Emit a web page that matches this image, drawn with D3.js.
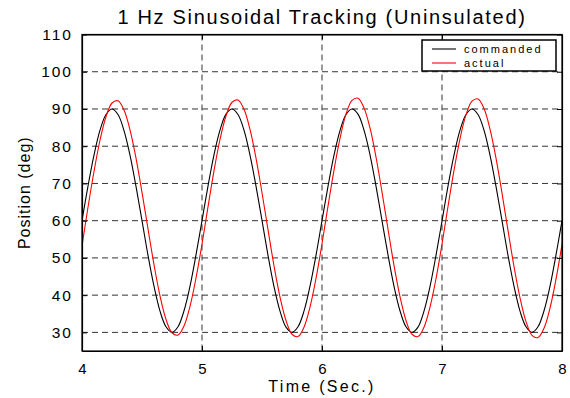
<!DOCTYPE html>
<html>
<head>
<meta charset="utf-8">
<script src="https://cdn.jsdelivr.net/npm/d3@7"></script>
<style>
  body { margin: 0; background: #fff; }
  svg { display: block; font-family: "Liberation Sans", Arial, sans-serif; }
  .grid line { stroke: #333; stroke-width: 1; stroke-dasharray: 6,4; }
</style>
</head>
<body>
<div id="chart"></div>
<script>
// time samples (sec.)
const time = [
  4.00, 4.05, 4.10, 4.15, 4.20, 4.25, 4.30, 4.35, 4.40, 4.45, 4.50, 4.55, 4.60, 4.65, 4.70, 4.75, 4.80, 4.85, 4.90, 4.95,
  5.00, 5.05, 5.10, 5.15, 5.20, 5.25, 5.30, 5.35, 5.40, 5.45, 5.50, 5.55, 5.60, 5.65, 5.70, 5.75, 5.80, 5.85, 5.90, 5.95,
  6.00, 6.05, 6.10, 6.15, 6.20, 6.25, 6.30, 6.35, 6.40, 6.45, 6.50, 6.55, 6.60, 6.65, 6.70, 6.75, 6.80, 6.85, 6.90, 6.95,
  7.00, 7.05, 7.10, 7.15, 7.20, 7.25, 7.30, 7.35, 7.40, 7.45, 7.50, 7.55, 7.60, 7.65, 7.70, 7.75, 7.80, 7.85, 7.90, 7.95,
  8.00
];

// commanded position (deg)
const commanded = [
  60.0, 69.3, 77.6, 84.3, 88.5, 90.0, 88.5, 84.2, 77.6, 69.2, 60.0, 50.7, 42.4, 35.7, 31.5, 30.0, 31.5, 35.8, 42.4, 50.8,
  60.0, 69.3, 77.7, 84.3, 88.6, 90.0, 88.5, 84.3, 77.6, 69.3, 60.1, 50.7, 42.3, 35.7, 31.4, 30.0, 31.5, 35.7, 42.4, 50.7,
  60.0, 69.2, 77.6, 84.2, 88.5, 90.0, 88.6, 84.3, 77.7, 69.3, 60.0, 50.8, 42.4, 35.8, 31.5, 30.0, 31.4, 35.7, 42.3, 50.7,
  59.9, 69.3, 77.6, 84.3, 88.5, 90.0, 88.5, 84.3, 77.6, 69.2, 60.0, 50.7, 42.4, 35.7, 31.5, 30.0, 31.5, 35.8, 42.4, 50.8,
  60.0
];

// actual position (deg)
const actual = [
  53.2, 63.6, 73.2, 81.6, 87.9, 91.6, 92.2, 89.7, 84.4, 76.8, 67.6, 57.8, 48.2, 39.8, 33.5, 29.9, 29.3, 31.7, 37.0, 44.6,
  53.7, 63.7, 73.4, 81.8, 88.1, 91.8, 92.4, 89.9, 84.5, 76.8, 67.5, 57.6, 47.9, 39.5, 33.2, 29.5, 28.9, 31.4, 36.8, 44.5,
  53.8, 63.9, 73.6, 82.1, 88.6, 92.3, 92.9, 90.3, 84.9, 77.1, 67.7, 57.7, 48.0, 39.6, 33.2, 29.5, 28.9, 31.4, 36.8, 44.4,
  53.7, 63.8, 73.5, 82.0, 88.4, 92.1, 92.7, 90.1, 84.6, 76.8, 67.4, 57.4, 47.7, 39.3, 32.9, 29.2, 28.6, 31.1, 36.5, 44.3,
  53.6
];

const xTicks = [4, 5, 6, 7, 8];
const yTicks = [30, 40, 50, 60, 70, 80, 90, 100, 110];
const seriesNames = ["commanded", "actual"];
const seriesColors = ["#000000", "#ff0000"];

const W = 570, H = 398;
const margin = {top: 34.5, right: 8, bottom: 47, left: 82};
const width = W - margin.left - margin.right;
const height = H - margin.top - margin.bottom;

const svg = d3.select("#chart").append("svg")
    .attr("width", W)
    .attr("height", H);

const g = svg.append("g")
    .attr("transform", `translate(${margin.left},${margin.top})`);

const x = d3.scaleLinear().domain([4, 8]).range([0, width]);
const y = d3.scaleLinear().domain([25, 110]).range([height, 0]);

// grid
const grid = g.append("g").attr("class", "grid");
grid.selectAll(".vg")
    .data(xTicks.slice(1, -1))
    .enter().append("line")
    .attr("x1", d => x(d)).attr("x2", d => x(d))
    .attr("y1", 0).attr("y2", height);
grid.selectAll(".hg")
    .data(yTicks.slice(0, -1))
    .enter().append("line")
    .attr("x1", 0).attr("x2", width)
    .attr("y1", d => y(d)).attr("y2", d => y(d));

// lines
g.append("clipPath").attr("id", "clip")
    .append("rect").attr("width", width).attr("height", height);

const line = d3.line()
    .x(d => x(d[0]))
    .y(d => y(d[1]))
    .curve(d3.curveCatmullRom.alpha(0.5));

[commanded, actual].forEach((vals, i) => {
    g.append("path")
        .datum(time.map((t, j) => [t, vals[j]]))
        .attr("clip-path", "url(#clip)")
        .attr("fill", "none")
        .attr("stroke", seriesColors[i])
        .attr("stroke-width", 1.1)
        .attr("d", line);
});

// axes (ticks pointing inward)
const axisFont = g => g.selectAll("text")
    .style("font-size", "15px")
    .style("letter-spacing", "2px")
    .attr("fill", "#000");

g.append("g")
    .attr("transform", `translate(0,${height})`)
    .call(d3.axisBottom(x).tickValues(xTicks).tickFormat(d3.format("d")).tickSize(-5).tickPadding(12).tickSizeOuter(0))
    .call(axisFont)
    .call(a => a.selectAll("text").attr("dy", "0.71em").style("letter-spacing", "0px"));

g.append("g")
    .call(d3.axisLeft(y).tickValues(yTicks).tickSize(-5).tickPadding(9).tickSizeOuter(0))
    .call(axisFont)
    .call(a => a.selectAll("text").style("font-size", "15.5px"));

g.append("g")
    .call(d3.axisTop(x).tickValues(xTicks).tickSize(-5).tickFormat("").tickSizeOuter(0));

g.append("g")
    .attr("transform", `translate(${width},0)`)
    .call(d3.axisRight(y).tickValues(yTicks).tickSize(-5).tickFormat("").tickSizeOuter(0));

g.selectAll(".domain").attr("stroke", "#000").attr("stroke-width", 1.2);
g.selectAll(".tick line").attr("stroke", "#000");

// box
g.append("rect")
    .attr("width", width).attr("height", height)
    .attr("fill", "none").attr("stroke", "#000").attr("stroke-width", 1.2);

// title and labels
svg.append("text")
    .attr("x", margin.left + width / 2).attr("y", 24)
    .attr("text-anchor", "middle")
    .style("font-size", "20px").style("letter-spacing", "1.7px")
    .text("1 Hz Sinusoidal Tracking (Uninsulated)");

svg.append("text")
    .attr("x", margin.left + width / 2).attr("y", 392)
    .attr("text-anchor", "middle")
    .style("font-size", "16px").style("letter-spacing", "2.3px")
    .text("Time (Sec.)");

svg.append("text")
    .attr("transform", `translate(30,${margin.top + height / 2}) rotate(-90)`)
    .attr("text-anchor", "middle")
    .style("font-size", "16px").style("letter-spacing", "1px")
    .text("Position (deg)");

// legend
const legend = svg.append("g").attr("transform", "translate(422,40)");
legend.append("rect")
    .attr("width", 134).attr("height", 31)
    .attr("fill", "#fff").attr("stroke", "#000").attr("stroke-width", 1.5);
seriesNames.forEach((name, i) => {
    legend.append("line")
        .attr("x1", 10).attr("x2", 34)
        .attr("y1", 9 + i * 14).attr("y2", 9 + i * 14)
        .attr("stroke", seriesColors[i]).attr("stroke-width", 1.1);
    legend.append("text")
        .attr("x", 42).attr("y", 13 + i * 14)
        .style("font-size", "11px").style("letter-spacing", "2px")
        .text(name);
});
</script>
</body>
</html>
